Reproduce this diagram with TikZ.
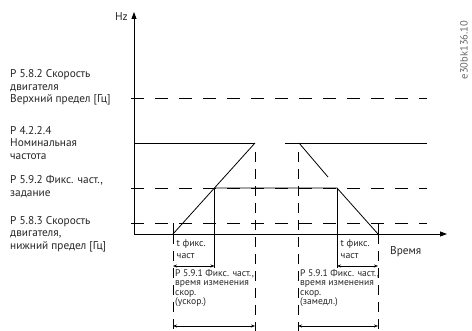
\documentclass[tikz,border=0pt]{standalone}
\usepackage{fontspec}
\setmainfont{PT Sans}
\usetikzlibrary{arrows.meta}
\begin{document}
\begin{tikzpicture}[x=1pt,y=-1pt,
  solid line/.style={line width=0.8pt, draw=black},
  hdash/.style={line width=0.8pt, draw=black, dash pattern=on 12.5pt off 11.5pt},
  vdash/.style={line width=0.8pt, draw=black, dash pattern=on 10pt off 7pt},
  lbl/.style={font=\fontsize{11.3}{12.6}\selectfont, align=left, inner sep=0pt, anchor=west, text=black!85},
  tfx/.style={font=\fontsize{9.8}{12}\selectfont, align=left, inner sep=0pt, anchor=west, text=black!85},
  sml/.style={font=\fontsize{9.6}{9.4}\selectfont, align=left, inner sep=0pt, anchor=west, text=black!85},
  dim/.style={line width=0.6pt, draw=black, arrows={Stealth[length=4pt,width=3pt]-Stealth[length=4pt,width=3pt]}},
  axis/.style={line width=0.8pt, draw=black, arrows={-Triangle[length=7pt,width=5pt]}}
]
\useasboundingbox (0,0) rectangle (472,331);
% coordinates
\coordinate (O) at (134,234);
\coordinate (ytop) at (134,12);
\coordinate (xend) at (447,234);
\coordinate (U0) at (131,98);  \coordinate (U1) at (427,98);
\coordinate (N0) at (134,143); \coordinate (N1) at (255,143);
\coordinate (N2) at (285,143); \coordinate (N3) at (427,143);
\coordinate (F0) at (131,188); \coordinate (F1) at (427,188);
\coordinate (L0) at (131,223); \coordinate (L1) at (427,223);
\coordinate (A) at (173,234);
\coordinate (B) at (255,143);
\coordinate (C) at (214.5,188);
\coordinate (D) at (337,188);
\coordinate (E) at (378,234);
\coordinate (G) at (299,143);
\coordinate (H) at (328,177);
\coordinate (At) at (173,223);
\coordinate (Et) at (378,223);
\coordinate (Cb) at (214.5,268);
\coordinate (Db) at (337,268);
\coordinate (Ab) at (173,331);
\coordinate (Eb) at (378,331);
\coordinate (V1t) at (255,152); \coordinate (V1b) at (255,331);
\coordinate (V2t) at (298,152); \coordinate (V2b) at (298,331);
\coordinate (d1a) at (173,266); \coordinate (d1b) at (214.5,266);
\coordinate (d2a) at (337,266); \coordinate (d2b) at (378,266);
\coordinate (d3a) at (173,326); \coordinate (d3b) at (255,326);
\coordinate (d4a) at (298,326); \coordinate (d4b) at (378,326);

% axes
\draw[axis] (O) -- (ytop);
\draw[axis] (O) -- (xend);
% level lines
\draw[hdash] (U0) -- (U1);
\draw[solid line] (N0) -- (N1);
\draw[solid line] (N2) -- (N3);
\draw[hdash] (F0) -- (F1);
\draw[hdash] (L0) -- (L1);
% profile
\draw[solid line] (A) -- (B);
\draw[solid line] (C) -- (D) -- (E);
\draw[solid line] (G) -- (H);
\draw[solid line] (At) -- (A);
\draw[solid line] (Et) -- (E);
\draw[solid line] (C) -- (Cb);
\draw[solid line] (D) -- (Db);
% vertical dashed guides
\draw[vdash] (A) -- (Ab);
\draw[vdash] (E) -- (Eb);
\draw[vdash] (V1t) -- (V1b);
\draw[vdash] (V2t) -- (V2b);
% dimension arrows
\draw[dim] (d1a) -- (d1b);
\draw[dim] (d2a) -- (d2b);
\draw[dim] (d3a) -- (d3b);
\draw[dim] (d4a) -- (d4b);

% labels
\node[lbl] (t1) at (10,87.5) {P 5.8.2 Скорость\\двигателя\\Верхний предел [Гц]};
\node[lbl] (t2) at (10,143) {P 4.2.2.4\\Номинальная\\частота};
\node[lbl] (t3) at (10,186.5) {P 5.9.2 Фикс. част.,\\задание};
\node[lbl] (t4) at (10,234) {P 5.8.3 Скорость\\двигателя,\\нижний предел [Гц]};
\node[lbl, anchor=east] (hz) at (128,17) {Hz};
\node[lbl] (time) at (390,252) {Время};
\node[tfx] (tf1) at (176.5,249) {t фикс.\\част};
\node[tfx] (tf2) at (340.5,249) {t фикс.\\част};
\node[sml] (r1) at (175,288) {P 5.9.1 Фикс. част.,\\время изменения\\скор.\\(ускор.)};
\node[sml] (r2) at (300,288) {P 5.9.1 Фикс. част.,\\время изменения\\скор.\\(замедл.)};
\node[rotate=90, font=\fontsize{10.5}{12}\selectfont, text=black!60, inner sep=0pt] (code) at (464,50) {e30bk136.10};
\end{tikzpicture}
\end{document}
